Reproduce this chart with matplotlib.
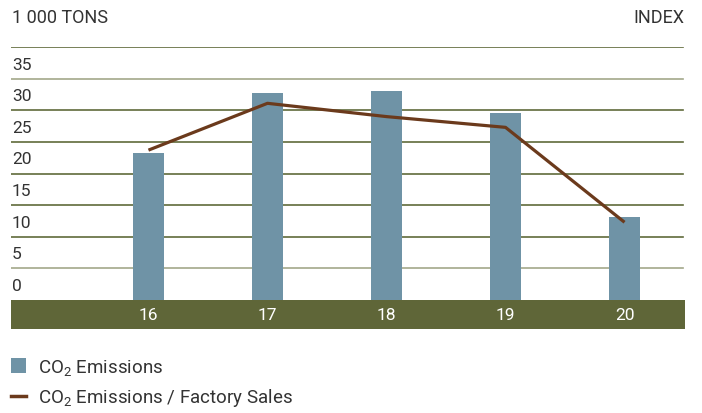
import matplotlib
matplotlib.use("Agg")
import matplotlib.pyplot as plt
from matplotlib.patches import Patch
from matplotlib.lines import Line2D

years = ["16", "17", "18", "19", "20"]
emissions = [23.3, 32.8, 33.1, 29.6, 13.1]          # 1 000 tons
emissions_per_sales = [23.7, 31.1, 29.0, 27.3, 12.3]  # index
y_ticks = [0, 5, 10, 15, 20, 25, 30, 35]

BAR = "#6f93a6"
LINE = "#6b3a1c"
BAND = "#5f6638"
GRID_DARK = "#606b3b"
GRID_LIGHT = "#a3a88a"
TEXT = "#333333"

plt.rcParams["font.family"] = ["Roboto", "DejaVu Sans"]
plt.rcParams["mathtext.default"] = "regular"

W, H = 702, 414
fig = plt.figure(figsize=(W / 100, H / 100), dpi=100)
ax = fig.add_axes([11 / W, (H - 330) / H, (685 - 11) / W, (330 - 48) / H])

band_h = 4.57
x = list(range(len(years)))
ax.set_xlim(-1.155, 4.508)
ax.set_ylim(-band_h, 40)
ax.axis("off")

# gridlines; value 0 sits on top of the band
for v in y_ticks[1:] + [40]:
    col = GRID_LIGHT if v in (5, 35) else GRID_DARK
    ax.axhline(v, xmin=0, xmax=0.997, color=col, lw=1.2, zorder=1)
for v in y_ticks:
    ax.text(-1.147, v + 2.3, str(v), ha="left", va="center",
            fontsize=12.5, color=TEXT)

ax.axhspan(-band_h, 0, color=BAND, lw=0, zorder=2)
for xi, lab in zip(x, years):
    ax.text(xi, -band_h / 2, lab, ha="center", va="center",
            fontsize=12.5, color="white", zorder=3)

ax.bar(x, emissions, width=0.26, color=BAR, zorder=3)

ax2 = ax.twinx()
ax2.set_ylim(ax.get_ylim())
ax2.axis("off")
ax2.plot(x, emissions_per_sales, color=LINE, lw=2.3, zorder=4,
         solid_capstyle="butt")

fig.text(12 / W, 1 - 18 / H, "1 000 TONS", ha="left", va="center",
         fontsize=13, color=TEXT)
fig.text(684 / W, 1 - 18 / H, "INDEX", ha="right", va="center",
         fontsize=13, color=TEXT)

handles = [Patch(color=BAR, lw=0),
           Line2D([0], [0], color=LINE, lw=2.5)]
labels = ["CO$_2$ Emissions", "CO$_2$ Emissions / Factory Sales"]
fig.legend(handles, labels, loc="upper left",
           bbox_to_anchor=(11 / W, 1 - 358 / H), frameon=False,
           fontsize=13.5, handlelength=0.78, handleheight=0.78,
           handletextpad=0.68, labelspacing=0.5, labelcolor=TEXT,
           borderpad=0, borderaxespad=0)

fig.savefig("out.png", dpi=100)
